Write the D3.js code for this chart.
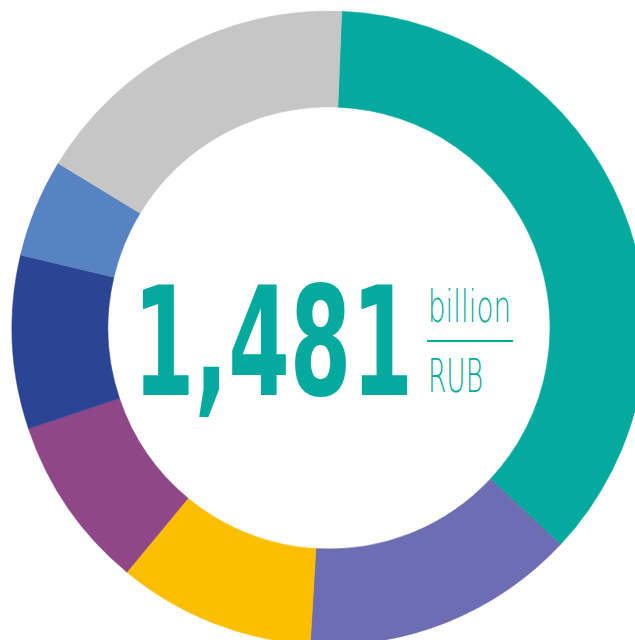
<!DOCTYPE html>
<html>
<head>
<meta charset="utf-8">
<script src="https://cdn.jsdelivr.net/npm/d3@7"></script>
<style>
  html, body { margin: 0; padding: 0; background: #fff; }
  svg { display: block; }
</style>
</head>
<body>
<svg width="635" height="640"></svg>
<script>
// segments in clockwise order, starting just right of 12 o'clock
const categories = ["A", "B", "C", "D", "E", "F", "G"];
const values = [538, 207, 149, 131, 131, 74, 251];
const colors = ["#05aa9f", "#6c6db3", "#fbbf00", "#8f4788", "#2b4494", "#5883c3", "#c7c6c7"];
const totalLabel = "1,481";
const unitTop = "billion";
const unitBottom = "RUB";

const svg = d3.select("svg");
const cx = 329, cy = 328;
const outerRadius = 317;
const innerRadius = 221;
const offset = 2.3 * Math.PI / 180;

const g = svg.append("g").attr("transform", `translate(${cx},${cy})`);

const pie = d3.pie()
  .sort(null)
  .value(d => d.value)
  .startAngle(offset)
  .endAngle(offset + 2 * Math.PI);

const arc = d3.arc()
  .innerRadius(innerRadius)
  .outerRadius(outerRadius);

const data = categories.map((c, i) => ({ name: c, value: values[i], color: colors[i] }));

g.selectAll("path")
  .data(pie(data))
  .join("path")
  .attr("d", arc)
  .attr("fill", d => d.data.color)
  .attr("stroke", d => d.data.color)
  .attr("stroke-width", 0.5);

// center label
const teal = "#05aa9f";

// squeeze a text horizontally so it spans the given width
function fitText(x, y, width, txt, size, family, weight) {
  const t = svg.append("text")
    .attr("font-family", family)
    .attr("font-weight", weight)
    .attr("font-size", size)
    .attr("fill", teal)
    .text(txt);
  const w = t.node().getComputedTextLength();
  t.attr("transform", `translate(${x},${y}) scale(${width / w},1)`);
  return t;
}

fitText(133, 395, 280, totalLabel, 152, "'DejaVu Sans Condensed', 'DejaVu Sans', sans-serif", "bold");
fitText(428, 322, 83, unitTop, 44, "'DejaVu Sans', sans-serif", 200);

svg.append("line")
  .attr("x1", 427).attr("x2", 513)
  .attr("y1", 341).attr("y2", 341)
  .attr("stroke", teal)
  .attr("stroke-width", 2);

fitText(428, 392, 55, unitBottom, 46, "'DejaVu Sans', sans-serif", 200);
</script>
</body>
</html>
